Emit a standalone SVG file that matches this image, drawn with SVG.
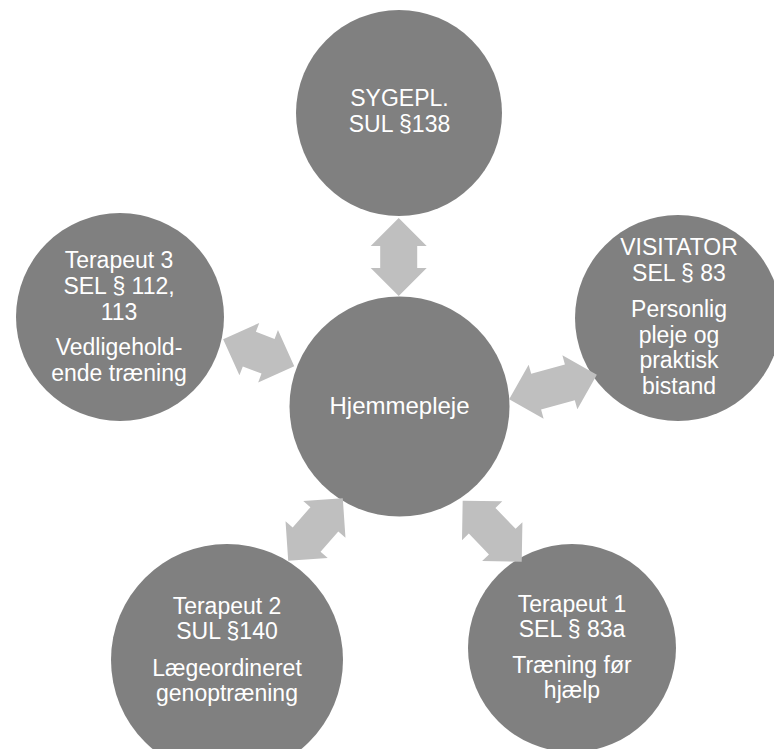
<svg xmlns="http://www.w3.org/2000/svg" width="774" height="749" viewBox="0 0 774 749">
<style>
.node{fill:#808080}
.arr{fill:#BFBFBF}
text{font-family:"Liberation Sans",Arial,sans-serif;font-size:23px;fill:#FFFFFF;text-anchor:middle}
</style>
<rect width="774" height="749" fill="#FFFFFF"/>
<g id="n-top"><circle class="node" cx="399" cy="113" r="103"/>
<text x="399.5" y="106">SYGEPL.</text><text x="399.5" y="132">SUL §138</text></g>
<g id="n-right"><circle class="node" cx="678" cy="318" r="103"/>
<text x="679" y="255">VISITATOR</text><text x="679" y="281">SEL § 83</text>
<text x="679" y="317">Personlig</text><text x="679" y="343">pleje og</text><text x="679" y="368">praktisk</text><text x="679" y="394">bistand</text></g>
<g id="n-bottomright"><circle class="node" cx="572" cy="648" r="104"/>
<text x="572" y="612">Terapeut 1</text><text x="572" y="637">SEL § 83a</text>
<text x="572" y="673">Træning før</text><text x="572" y="698">hjælp</text></g>
<g id="n-bottomleft"><circle class="node" cx="227" cy="660" r="116"/>
<text x="227" y="614">Terapeut 2</text><text x="227" y="639">SUL §140</text>
<text x="227" y="676">Lægeordineret</text><text x="227" y="701">genoptræning</text></g>
<g id="n-left"><circle class="node" cx="120" cy="317" r="104"/>
<text x="119" y="268">Terapeut 3</text><text x="119" y="294">SEL § 112,</text><text x="119" y="320">113</text>
<text x="119" y="355">Vedligehold-</text><text x="119" y="381">ende træning</text></g>
<g id="n-center"><circle class="node" cx="399.5" cy="406.5" r="110"/>
<text x="399.5" y="414" style="font-size:24px">Hjemmepleje</text></g>
<g id="connectors">
<path class="arr" transform="translate(398.7,257) rotate(90)" d="M-39 0L-11 -28L-11 -18.5L11 -18.5L11 -28L39 0L11 28L11 18.5L-11 18.5L-11 28Z"/>
<path class="arr" transform="translate(258.7,352.7) rotate(20.7)" d="M-38 0L-10 -28L-10 -18.5L10 -18.5L10 -28L38 0L10 28L10 18.5L-10 18.5L-10 28Z"/>
<path class="arr" transform="translate(553,387) rotate(-15.5)" d="M-45.5 0L-17.5 -28L-17.5 -18.5L17.5 -18.5L17.5 -28L45.5 0L17.5 28L17.5 18.5L-17.5 18.5L-17.5 28Z"/>
<path class="arr" transform="translate(315.5,529.5) rotate(-48.9)" d="M-41.5 0L-13.5 -28L-13.5 -18.5L13.5 -18.5L13.5 -28L41.5 0L13.5 28L13.5 18.5L-13.5 18.5L-13.5 28Z"/>
<path class="arr" transform="translate(492.2,531.2) rotate(46)" d="M-42.5 0L-14.5 -28L-14.5 -18.5L14.5 -18.5L14.5 -28L42.5 0L14.5 28L14.5 18.5L-14.5 18.5L-14.5 28Z"/>
</g>
</svg>
